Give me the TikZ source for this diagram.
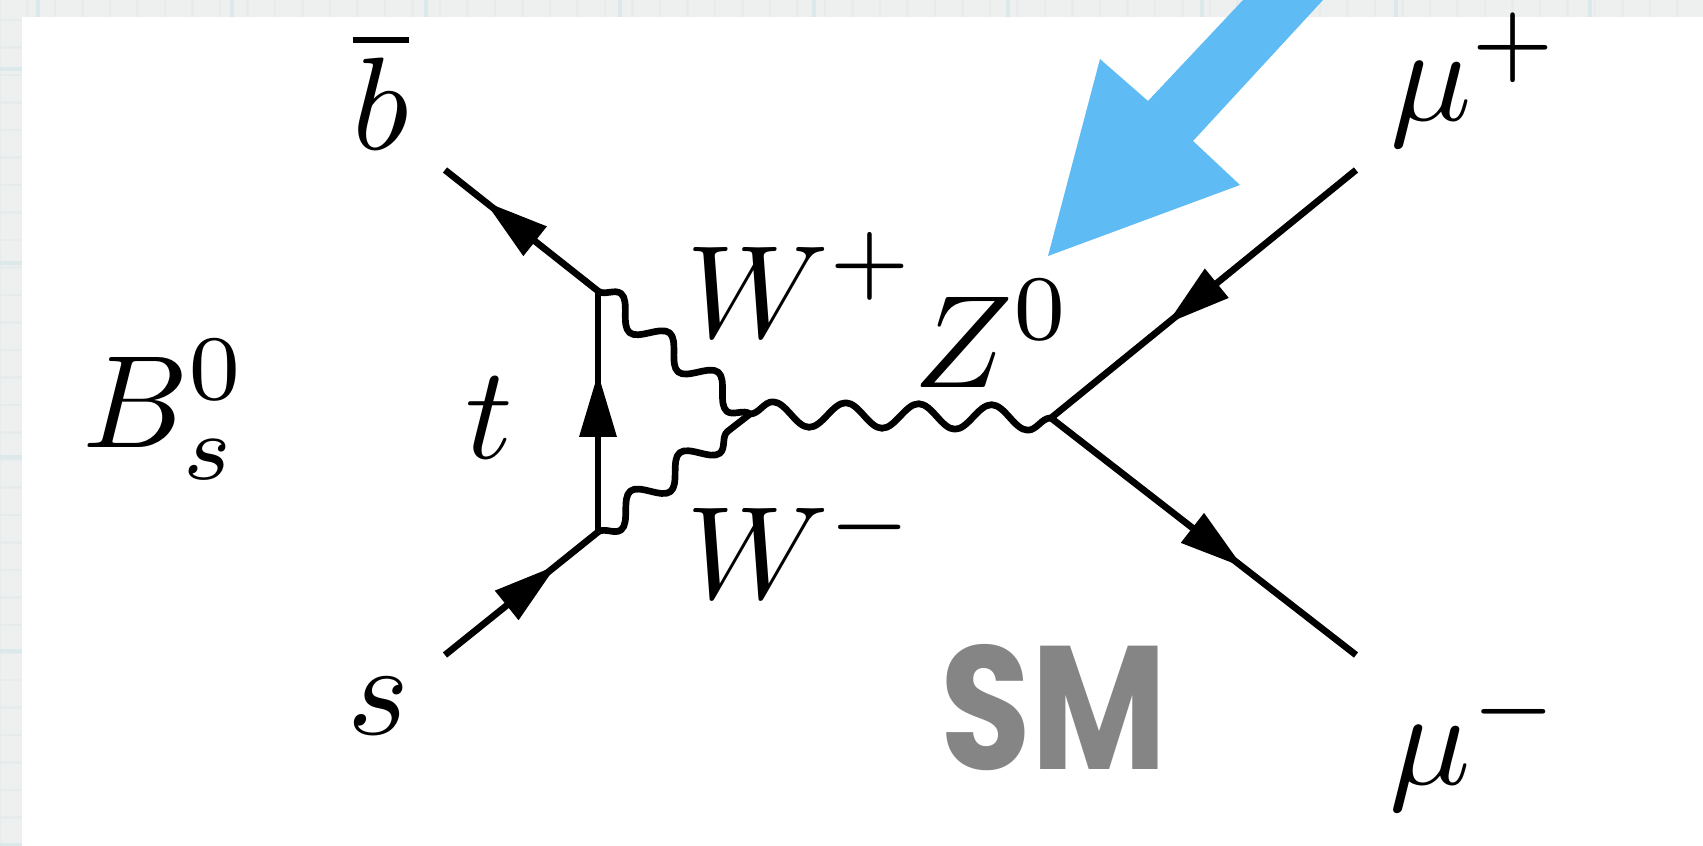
\documentclass[tikz,border=0pt]{standalone}
\usepackage{amsmath,xcolor}
\usepackage{fontspec}
\newfontfamily\smfont{Poppins}
\definecolor{sheetgray}{RGB}{238,240,240}
\definecolor{gridgray}{RGB}{231,235,235}
\definecolor{gridteal}{RGB}{220,233,235}
\definecolor{pointblue}{RGB}{95,187,243}
\definecolor{smgray}{RGB}{133,133,133}
\usetikzlibrary{arrows.meta,positioning,decorations.pathmorphing,decorations.markings}

\begin{document}
\begin{tikzpicture}[
    lbl/.style={scale=3.75, inner sep=0pt},
    muon/.style={scale=3.85, inner sep=0pt},
    fermion/.style={line width=1.9pt, postaction={decorate},
                    decoration={markings, mark=at position #1 with
                    {\arrow{Triangle[length=6.4mm,width=3.6mm]}}}},
    boson/.style={line width=1.9pt, line join=round, decorate,
                  decoration={snake, amplitude=0.125cm, segment length=#1}}
  ]
    \useasboundingbox (0,0) rectangle (17.03,8.45);

    % Sheet behind the picture
    \fill[sheetgray] (0,0) rectangle (17.03,8.45);
    \draw[gridgray, line width=0.6pt, step=0.275] (0,0) grid (17.03,8.45);
    \draw[gridteal, line width=1pt, step=1.94, xshift=0.38cm] (-0.38,0) grid (16.65,8.45);
    \fill[white] (0.22,-0.1) rectangle (17.13,8.28);

    % Vertices and line ends
    \coordinate (vt) at (5.98,5.54);
    \coordinate (vb) at (5.98,3.13);
    \coordinate (vj) at (7.50,4.31);
    \coordinate (vz) at (10.51,4.27);
    \coordinate (bend) at (4.45,6.75);
    \coordinate (send) at (4.45,1.90);
    \coordinate (mpend) at (13.56,6.75);
    \coordinate (mmend) at (13.56,1.90);

    % Quark and muon lines
    \draw[fermion=0.74] (vt) -- (bend);
    \draw[fermion=0.73] (send) -- (vb);
    \draw[fermion=0.66] (vb) -- (vt);
    \draw[fermion=0.62] (mpend) -- (vz);
    \draw[fermion=0.63] (vz) -- (mmend);

    % W and Z lines
    \draw[boson=0.625cm] (vt) -- (vj);
    \draw[boson=0.625cm, decoration={mirror}] (vb) -- (vj);
    \draw[boson=0.729cm] (vj) -- (vz);

    % Labels
    \node[lbl] (bbar) at (3.81,7.54) {$\overline{b}$};
    \node[lbl] (sq) at (3.78,1.39) {$s$};
    \node[lbl] (bs) at (1.65,4.35) {$B_s^0$};
    \node[lbl] (tq) at (4.89,4.27) {$t$};
    \node[lbl] (wp) at (8.02,5.60) {$W^+$};
    \node[lbl] (wm) at (8.02,2.99) {$W^-$};
    \node[lbl] (zz) at (9.93,5.11) {$Z^0$};
    \node[muon] (mp) at (14.76,7.65) {$\mu^+$};
    \node[muon] (mm) at (14.76,1.01) {$\mu^-$};
    \node[text=smgray, inner sep=0pt, font=\smfont\bfseries\fontsize{50}{50}\selectfont,
          xscale=0.84] (sm) at (10.54,1.37) {SM};

    % Pointer
    \fill[pointblue] (10.48,5.89) -- (11.00,7.86) -- (11.48,7.44) -- (12.43,8.45)
      -- (13.23,8.45) -- (11.93,7.04) -- (12.40,6.60) -- cycle;
  \end{tikzpicture}
\end{document}
